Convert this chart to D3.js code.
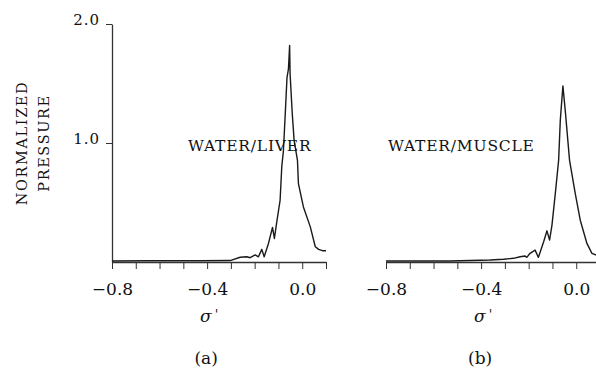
<!DOCTYPE html>
<html>
<head>
<meta charset="utf-8">
<script src="https://cdn.jsdelivr.net/npm/d3@7/dist/d3.min.js"></script>
<style>
    body { margin: 0; background: #fff; }
    text { font-family: "DejaVu Serif", serif; fill: #111; }
</style>
</head>
<body>
<div id="chart"></div>
<script>
// tick values
var xTicks = [-0.8, -0.7, -0.6, -0.5, -0.4, -0.3, -0.2, -0.1, 0.0, 0.1];
var xLabelled = [-0.8, -0.4, 0.0];
var yTicks = [1.0, 2.0];

// panel (a) water/liver
var liverX = [-0.80, -0.64, -0.43, -0.303, -0.261, -0.233, -0.219, -0.198, -0.184, -0.170, -0.160,
              -0.142, -0.125, -0.117, -0.107, -0.093, -0.086, -0.079, -0.070, -0.064, -0.058, -0.053, -0.051,
              -0.042, -0.034, -0.020, -0.016, 0.005, 0.034, 0.055, 0.069, 0.085, 0.10];
var liverY = [0.008, 0.01, 0.01, 0.012, 0.04, 0.044, 0.036, 0.059, 0.044, 0.106, 0.044,
              0.156, 0.29, 0.198, 0.337, 0.519, 0.80, 0.937, 1.30, 1.55, 1.62, 1.82, 1.58,
              1.25, 1.02, 0.854, 0.659, 0.463, 0.295, 0.128, 0.106, 0.095, 0.095];

// panel (b) water/muscle
var muscleX = [-0.80, -0.53, -0.362, -0.306, -0.264, -0.236, -0.215, -0.208, -0.194, -0.173, -0.159,
               -0.137, -0.123, -0.112, -0.102, -0.088, -0.074, -0.067, -0.056, -0.046, -0.028,
               -0.004, 0.017, 0.045, 0.066, 0.084, 0.10];
var muscleY = [0.008, 0.008, 0.017, 0.023, 0.031, 0.044, 0.05, 0.039, 0.073, 0.10, 0.039,
               0.17, 0.262, 0.184, 0.31, 0.575, 0.854, 1.19, 1.48, 1.27, 0.854,
               0.575, 0.351, 0.156, 0.073, 0.059, 0.055];

var panelNames = ["WATER/LIVER", "WATER/MUSCLE"];
var panelTags = ["(a)", "(b)"];

!function(){
    var width = 596, height = 369;
    var panelLeft = [112, 386];
    var panelWidth = 214;

    var svg = d3.select("#chart")
        .append("svg")
        .attr("width", width)
        .attr("height", height);

    var y = d3.scaleLinear()
        .domain([0, 2])
        .range([262, 24]);

    var series = [
        d3.zip(liverX, liverY),
        d3.zip(muscleX, muscleY)
    ];

    var fmt = d3.format(".1f");

    // y axis only on the left panel
    var yAxis = d3.axisLeft(y)
        .tickValues(yTicks)
        .tickSize(6)
        .tickSizeOuter(0)
        .tickFormat(fmt);

    var ya = svg.append("g")
        .attr("transform", "translate(" + panelLeft[0] + ",0)")
        .call(yAxis);
    ya.select(".domain").attr("stroke", "#333").attr("stroke-width", 1.3);
    ya.selectAll(".tick line").attr("stroke", "#333");
    ya.selectAll(".tick text")
        .attr("x", -12)
        .attr("dy", "0.05em")
        .attr("font-size", 15)
        .attr("letter-spacing", 1)
        .style("font-family", "DejaVu Serif")
        .style("fill", "#111");

    svg.append("text")
        .attr("transform", "translate(27,143) rotate(-90)")
        .attr("text-anchor", "middle")
        .attr("font-size", 14.5)
        .attr("letter-spacing", 1.6)
        .text("NORMALIZED");

    svg.append("text")
        .attr("transform", "translate(49,143) rotate(-90)")
        .attr("text-anchor", "middle")
        .attr("font-size", 14.5)
        .attr("letter-spacing", 1.6)
        .text("PRESSURE");

    series.forEach(function(data, i) {
        var x = d3.scaleLinear()
            .domain([-0.8, 0.1])
            .range([panelLeft[i], panelLeft[i] + panelWidth]);

        var xAxis = d3.axisBottom(x)
            .tickValues(xTicks)
            .tickSize(7)
            .tickSizeOuter(0)
            .tickFormat(function(d) {
                return xLabelled.some(function(v) { return Math.abs(v - d) < 1e-9; }) ? fmt(d) : "";
            });

        var xa = svg.append("g")
            .attr("transform", "translate(0," + y(0) + ")")
            .call(xAxis);
        xa.select(".domain").attr("stroke", "#333").attr("stroke-width", 1.3);
        xa.selectAll(".tick line").attr("stroke", "#333");
        xa.selectAll(".tick text")
            .attr("y", 21)
            .attr("dy", "0.71em")
            .attr("font-size", 17)
            .style("font-family", "DejaVu Serif")
            .style("fill", "#111");

        var line = d3.line()
            .x(function(d) { return x(d[0]); })
            .y(function(d) { return y(d[1]); });

        svg.append("path")
            .datum(data)
            .attr("d", line)
            .attr("fill", "none")
            .attr("stroke", "#1a1a1a")
            .attr("stroke-width", 1.4)
            .attr("stroke-linejoin", "round");

        var mid = x(-0.4);

        var sig = svg.append("text")
            .attr("x", mid + 2)
            .attr("y", 322)
            .attr("text-anchor", "middle")
            .attr("font-size", 17);
        sig.append("tspan").attr("font-style", "italic").text("σ");
        sig.append("tspan").attr("dx", 3).attr("dy", -3).attr("font-size", 13).text("'");

        svg.append("text")
            .attr("x", mid - 1)
            .attr("y", 364)
            .attr("text-anchor", "middle")
            .attr("font-size", 17)
            .text(panelTags[i]);

        svg.append("text")
            .attr("x", i == 0 ? 188 : 388)
            .attr("y", 151)
            .attr("font-size", 15.5)
            .attr("letter-spacing", 0.8)
            .text(panelNames[i]);
    });
}();
</script>
</body>
</html>
